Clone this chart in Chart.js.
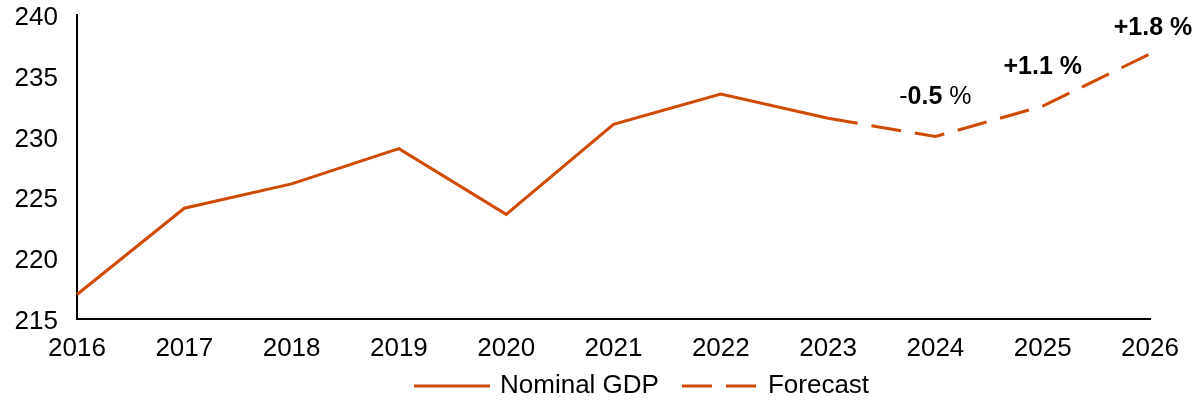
<!DOCTYPE html>
<html>
<head>
<meta charset="utf-8">
<script src="https://cdn.jsdelivr.net/npm/chart.js@4"></script>
<style>
  html, body { margin: 0; padding: 0; background: #fff; }
  #wrap { width: 1194px; height: 403px; }
</style>
</head>
<body>
<div id="wrap"><canvas id="gdpChart"></canvas></div>
<script>
const years = ['2016', '2017', '2018', '2019', '2020', '2021', '2022', '2023', '2024', '2025', '2026'];
const nominalGdp = [217.0, 224.1, 226.1, 229.0, 223.6, 231.0, 233.5, 231.5, null, null, null];
const forecast = [null, null, null, null, null, null, null, 231.5, 230.0, 232.5, 236.8];
// each label split into [text, bold] pieces
const growthLabels = [null, null, null, null, null, null, null, null,
    [['-', false], ['0.5', true], [' %', false]],
    [['+1.1 %', true]],
    [['+1.8 %', true]]];
const yTicks = [215, 220, 225, 230, 235, 240];

const orange = '#D04A02';
const fontFamily = '"Liberation Sans", Arial, sans-serif';

// draws the growth labels above the forecast points
const growthPlugin = {
    id: 'growth',
    afterDatasetsDraw(chart) {
        const ctx = chart.ctx;
        const xs = chart.scales.x, ys = chart.scales.y;
        ctx.save();
        ctx.fillStyle = '#000';
        ctx.textAlign = 'left';
        ctx.textBaseline = 'middle';
        growthLabels.forEach(function(parts, i) {
            if (!parts) return;
            let cx = xs.getPixelForValue(i);
            let y = ys.getPixelForValue(forecast[i]) - 39;
            if (i === growthLabels.length - 1) { cx += 3; y += 13; }
            let widths = parts.map(function(p) {
                ctx.font = (p[1] ? 'bold ' : '') + '25px ' + fontFamily;
                return ctx.measureText(p[0]).width;
            });
            let total = widths.reduce(function(a, b) { return a + b; }, 0);
            let x = cx - total / 2;
            parts.forEach(function(p, k) {
                ctx.font = (p[1] ? 'bold ' : '') + '25px ' + fontFamily;
                ctx.fillText(p[0], x, y);
                x += widths[k];
            });
        });
        ctx.restore();
    }
};

// legend under the axis, drawn from the dataset styles
const legendPlugin = {
    id: 'bottomLegend',
    afterDraw(chart) {
        const ctx = chart.ctx;
        const y = 386;
        let x = 414;
        ctx.save();
        ctx.font = '26px ' + fontFamily;
        ctx.textBaseline = 'middle';
        ctx.fillStyle = '#000';
        chart.data.datasets.forEach(function(ds) {
            ctx.strokeStyle = ds.borderColor;
            ctx.lineWidth = ds.borderWidth;
            ctx.setLineDash(ds.borderDash || []);
            ctx.beginPath();
            ctx.moveTo(x, y);
            ctx.lineTo(x + 76, y);
            ctx.stroke();
            x += 76 + 10;
            ctx.fillText(ds.label, x, y);
            x += ctx.measureText(ds.label).width + 23;
        });
        ctx.restore();
    }
};

const ctx = document.getElementById('gdpChart').getContext('2d');
const gdpChart = new Chart(ctx, {
    type: 'line',
    data: {
        labels: years,
        datasets: [
            {
                label: 'Nominal GDP',
                data: nominalGdp,
                borderColor: orange,
                backgroundColor: orange,
                borderWidth: 3,
                pointRadius: 0,
                tension: 0
            },
            {
                label: 'Forecast',
                data: forecast,
                borderColor: orange,
                backgroundColor: orange,
                borderWidth: 3,
                borderDash: [30, 14],
                pointRadius: 0,
                tension: 0
            }
        ]
    },
    options: {
        responsive: true,
        maintainAspectRatio: false,
        animation: false,
        layout: { padding: { left: 0, right: 0, top: 0, bottom: 25 } },
        plugins: {
            tooltip: { enabled: false },
            legend: { display: false }
        },
        scales: {
            x: {
                offset: false,
                afterFit: function(scale) {
                    scale.paddingLeft = 0;
                    scale.paddingRight = 44;
                },
                grid: { display: false, drawTicks: false },
                border: { display: true, color: '#000', width: 2 },
                ticks: {
                    color: '#000',
                    padding: 14,
                    maxRotation: 0,
                    autoSkip: false,
                    font: { family: fontFamily, size: 26 }
                }
            },
            y: {
                min: 215,
                max: 240,
                afterBuildTicks: function(scale) {
                    scale.ticks = yTicks.map(function(v) { return { value: v }; });
                },
                afterFit: function(scale) {
                    scale.width = 77;
                    scale.paddingTop = 15;
                    scale.paddingBottom = 0;
                },
                grid: { display: false, drawTicks: false },
                border: { display: true, color: '#000', width: 2 },
                ticks: {
                    color: '#000',
                    padding: 19,
                    labelOffset: 3,
                    font: { family: fontFamily, size: 26 }
                }
            }
        }
    },
    plugins: [growthPlugin, legendPlugin]
});
</script>
</body>
</html>
